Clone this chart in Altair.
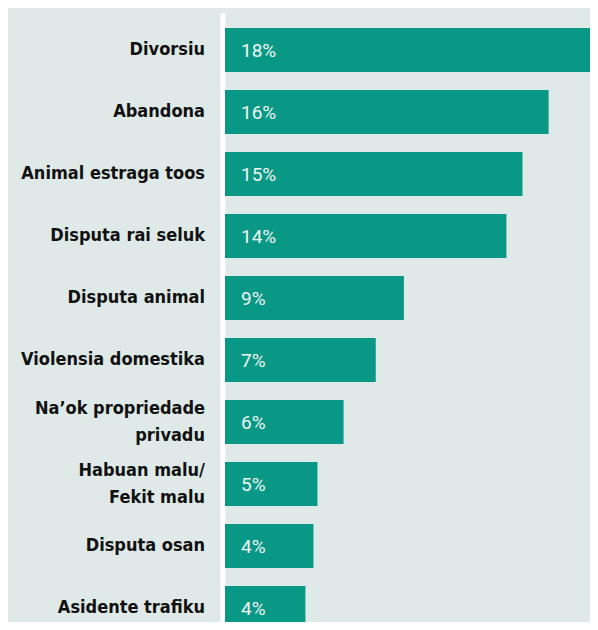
import altair as alt
import pandas as pd

categories = ["Divorsiu", "Abandona", "Animal estraga toos", "Disputa rai seluk",
              "Disputa animal", "Violensia domestika", "Na’ok propriedade|privadu",
              "Habuan malu/|Fekit malu", "Disputa osan", "Asidente trafiku"]
values = [18.3, 16.1, 14.8, 14.0, 8.9, 7.5, 5.9, 4.6, 4.4, 4.0]
labels = ["18%", "16%", "15%", "14%", "9%", "7%", "6%", "5%", "4%", "4%"]

df = pd.DataFrame({"cat": categories, "val": values, "lab": labels})

BAR = "#0a9886"
BG = "#dfe9e7"

y_enc = alt.Y("cat:N", sort=categories, title=None,
              scale=alt.Scale(paddingInner=0.29, paddingOuter=0.242),
              axis=alt.Axis(domainColor="white", domainWidth=5, ticks=False, grid=False,
                            labelFont="DejaVu Sans Condensed, Roboto, sans-serif", labelFontSize=18,
                            labelFontWeight="bold", labelColor="#111111",
                            labelPadding=18, offset=2.5, labelLimit=260,
                            labelOffset={"condition": {"test": "indexof(datum.value, '|') >= 0",
                                                       "value": -13},
                                         "value": 0},
                            labelExpr="split(datum.label, '|')", labelLineHeight=27))
x_scale = alt.Scale(domain=[0, 18.16], nice=False, zero=True)

bars = alt.Chart(df).mark_bar(color=BAR, clip=True).encode(
    x=alt.X("val:Q", scale=x_scale, axis=None),
    y=y_enc,
)
text = alt.Chart(df).mark_text(align="left", baseline="middle", dx=16, dy=1,
                               font="Roboto", fontSize=19, color="#eef6f3").encode(
    x=alt.X("z:Q", scale=x_scale, axis=None),
    y=alt.Y("cat:N", sort=categories),
    text="lab:N",
).transform_calculate(z="0")

chart = alt.layer(bars, text).properties(
    width=365, height=632,
    padding={"left": 217, "top": 5, "right": 0, "bottom": -23},
    autosize=alt.AutoSizeParams(type="none"),
    background=BG,
).configure_view(stroke=None)

chart.save("out.html", embed_options={"renderer": "svg", "actions": False})
